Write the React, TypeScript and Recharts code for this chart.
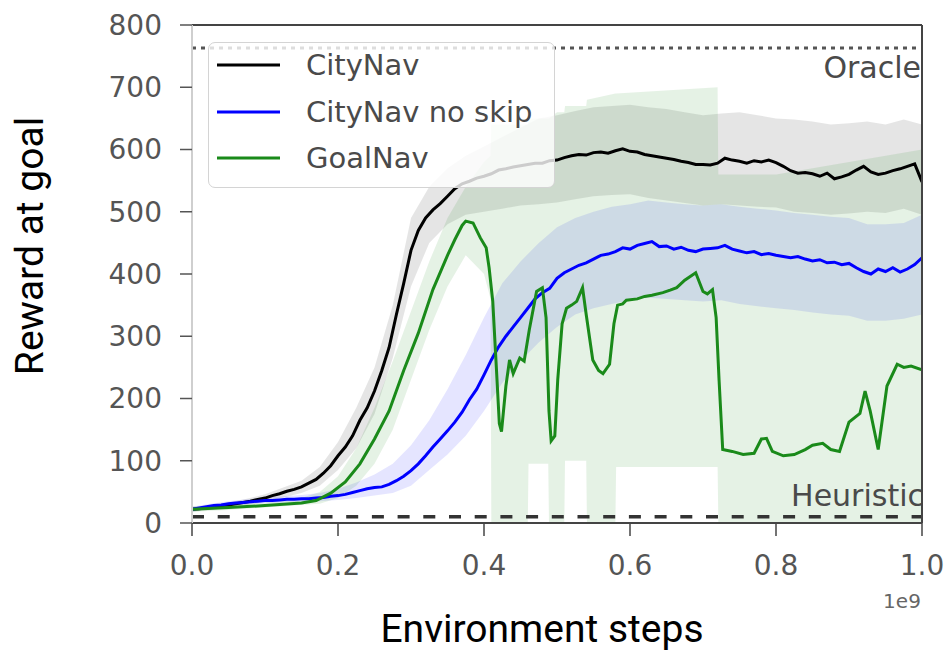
import {
  ComposedChart,
  Line,
  Area,
  XAxis,
  YAxis,
  ReferenceLine,
  Legend,
  Label,
} from "recharts";

// x grid shared by the two CityNav curves (units of 1e9 steps)
const steps = Array.from({ length: 101 }, (_, i) => i / 100);

const cityNavReward = [
  22, 23, 25, 26, 28, 29, 31, 33, 35, 38,
  40, 44, 47, 51, 54, 58, 64, 70, 80, 92,
  108, 122, 140, 165, 185, 212, 245, 282, 335, 385,
  438, 470, 490, 503, 513, 525, 537, 545, 549, 554,
  557, 561, 567, 569, 572, 574, 576, 578, 578, 582,
  583, 587, 590, 592, 591, 595, 596, 594, 598, 601,
  597, 596, 592, 590, 588, 586, 584, 581, 579, 576,
  576, 575, 578, 586, 583, 581, 578, 582, 580, 583,
  579, 573, 566, 562, 563, 561, 557, 562, 553, 556,
  560, 567, 573, 564, 560, 562, 566, 569, 573, 577, 548,
];

const noSkipReward = [
  22, 24, 26, 28, 29, 31, 32, 33, 34, 35,
  36, 36, 37, 38, 38, 39, 39, 40, 41, 43,
  44, 46, 49, 52, 55, 57, 58, 62, 68, 75,
  84, 95, 108, 122, 135, 148, 162, 178, 198, 215,
  238, 262, 283, 300, 315, 330, 345, 360, 370, 377,
  393, 402, 408, 414, 418, 424, 430, 432, 436, 442,
  440, 446, 449, 452, 444, 445, 440, 443, 438, 436,
  440, 441, 442, 446, 440, 437, 434, 436, 431, 433,
  430, 428, 426, 428, 424, 421, 423, 418, 419, 415,
  417, 410, 404, 400, 408, 404, 410, 403, 408, 415, 426,
];

// spread bands for the CityNav curves, every 0.025
const bandSteps = Array.from({ length: 41 }, (_, i) => i * 0.025);

const cityNavLow = [
  18, 21, 25, 29, 34, 41, 48, 60, 85, 120, 175, 265, 380, 450, 480, 495, 500,
  505, 510, 512, 515, 520, 525, 527, 528, 522, 518, 514, 510, 512, 510, 508,
  507, 500, 498, 495, 497, 500, 498, 505, 495,
];
const cityNavHigh = [
  26, 29, 33, 39, 46, 57, 68, 90, 130, 185, 250, 350, 490, 540, 570, 590, 605,
  620, 635, 650, 655, 662, 668, 670, 672, 668, 665, 660, 655, 658, 660, 655,
  650, 648, 645, 640, 642, 645, 640, 648, 640,
];

const noSkipLow = [
  18, 23, 27, 30, 32, 33, 34, 35, 37, 40, 44, 48, 60, 85, 110, 140, 180, 225,
  260, 290, 315, 335, 345, 352, 358, 362, 360, 358, 356, 358, 352, 348, 345,
  342, 338, 335, 333, 325, 325, 328, 335,
];
const noSkipHigh = [
  26, 31, 35, 38, 41, 43, 45, 48, 55, 65, 78, 95, 125, 165, 215, 270, 330,
  385, 420, 450, 475, 490, 500, 508, 512, 518, 515, 512, 510, 512, 508, 505,
  502, 498, 495, 492, 490, 480, 480, 482, 495,
];

// GoalNav has sharp drops, so it keeps its own x positions
const goalNavSteps = [
  0, 0.05, 0.1, 0.15, 0.17, 0.19, 0.21, 0.23, 0.25, 0.27, 0.29, 0.31, 0.33,
  0.35, 0.36, 0.37, 0.375, 0.385, 0.395, 0.403, 0.407, 0.412, 0.417, 0.421,
  0.424, 0.43, 0.435, 0.44, 0.449, 0.455, 0.462, 0.472, 0.48, 0.485, 0.489,
  0.492, 0.497, 0.501, 0.507, 0.513, 0.52, 0.527, 0.535, 0.54, 0.549, 0.557,
  0.563, 0.572, 0.578, 0.583, 0.59, 0.595, 0.61, 0.62, 0.63, 0.645, 0.655,
  0.664, 0.675, 0.69, 0.7, 0.706, 0.713, 0.718, 0.722, 0.727, 0.74, 0.755,
  0.77, 0.78, 0.787, 0.795, 0.81, 0.825, 0.84, 0.85, 0.864, 0.875, 0.887, 0.9,
  0.915, 0.922, 0.929, 0.94, 0.952, 0.966, 0.975, 0.985, 1.0,
];
const goalNavReward = [
  22, 25, 28, 32, 36, 48, 66, 95, 135, 180, 245, 305, 375, 430, 455, 478, 485,
  482, 458, 442, 410, 356, 248, 160, 147, 220, 262, 240, 265, 260, 310, 372,
  378, 330, 180, 132, 140, 230, 320, 345, 350, 356, 378, 335, 262, 245, 240,
  255, 320, 350, 352, 358, 360, 364, 366, 370, 374, 378, 390, 402, 372, 368,
  375, 330, 230, 118, 115, 110, 112, 135, 136, 115, 108, 110, 118, 125, 128,
  118, 115, 162, 176, 212, 180, 118, 220, 255, 250, 252, 246,
];

const goalBandSteps = [
  0, 0.05, 0.1, 0.15, 0.175, 0.2, 0.225, 0.25, 0.275, 0.3, 0.325, 0.35, 0.375,
  0.4, 0.409, 0.41, 0.46, 0.461, 0.488, 0.489, 0.5, 0.51, 0.511, 0.54, 0.541,
  0.58, 0.581, 0.72, 0.721, 0.8, 0.9, 1.0,
];
const goalNavLow = [
  18, 21, 25, 29, 31, 40, 60, 95, 150, 230, 310, 380, 430, 400, 360, 0, 0, 95,
  95, 0, 0, 0, 100, 100, 0, 0, 90, 90, 0, 0, 0, 0,
];
const goalNavHigh = [
  26, 29, 33, 40, 50, 75, 120, 185, 260, 340, 420, 490, 540, 580, 590, 640,
  640, 650, 650, 650, 660, 660, 670, 670, 680, 690, 690, 700, 560, 560, 580,
  600,
];

const xTicks = [0, 0.2, 0.4, 0.6, 0.8, 1.0];
const yTicks = [0, 100, 200, 300, 400, 500, 600, 700, 800];
const oracleReward = 763;
const heuristicReward = 10;

const cityNavData = steps.map((x, i) => ({ x, y: cityNavReward[i] }));
const noSkipData = steps.map((x, i) => ({ x, y: noSkipReward[i] }));
const goalNavData = goalNavSteps.map((x, i) => ({ x, y: goalNavReward[i] }));
const cityNavBand = bandSteps.map((x, i) => ({
  x,
  range: [cityNavLow[i], cityNavHigh[i]],
}));
const noSkipBand = bandSteps.map((x, i) => ({
  x,
  range: [noSkipLow[i], noSkipHigh[i]],
}));
const goalNavBand = goalBandSteps.map((x, i) => ({
  x,
  range: [goalNavLow[i], goalNavHigh[i]],
}));

const tickStyle = { fontSize: 28, fill: "#555", fontFamily: "DejaVu Sans" };

const renderLegend = (props: any) => {
  const items = (props.payload || []).filter((p: any) => p.type !== "none");
  return (
    <div
      style={{
        position: "relative",
        width: 347,
        height: 146,
        boxSizing: "border-box",
        border: "1.5px solid #d4d4d4",
        borderRadius: 7,
        background: "rgba(255,255,255,0.8)",
      }}
    >
      {items.map((p: any, i: number) => (
        <div
          key={p.value}
          style={{
            position: "absolute",
            left: 8,
            top: 5 + i * 46.5,
            height: 34,
            display: "flex",
            alignItems: "center",
          }}
        >
          <svg width={63} height={34}>
            <line x1={0} x2={63} y1={17} y2={17} stroke={p.color} strokeWidth={3} />
          </svg>
          <span
            style={{
              marginLeft: 26,
              fontFamily: "DejaVu Sans",
              fontSize: 29,
              color: "#4a4a4a",
              whiteSpace: "nowrap",
            }}
          >
            {p.value}
          </span>
        </div>
      ))}
    </div>
  );
};

export default function App() {
  return (
    <div style={{ position: "absolute", left: 0, top: 0, background: "#fff" }}>
      <ComposedChart
        width={945}
        height={652}
        margin={{ top: 0, right: 0, bottom: 0, left: 0 }}
      >
        <XAxis
          dataKey="x"
          type="number"
          domain={[0, 1]}
          ticks={xTicks}
          tickFormatter={(v: number) => v.toFixed(1)}
          height={129}
          tick={tickStyle}
          tickSize={13}
          tickMargin={19}
          axisLine={{ stroke: "#444", strokeWidth: 2 }}
          tickLine={{ stroke: "#444", strokeWidth: 1.5 }}
          allowDataOverflow
        >
          <Label
            content={() => (
              <g>
                <text
                  x={542}
                  y={642}
                  textAnchor="middle"
                  fontFamily="Roboto"
                  fontSize={39}
                  fill="#000"
                >
                  Environment steps
                </text>
                <text
                  x={902}
                  y={608}
                  textAnchor="middle"
                  fontFamily="DejaVu Sans"
                  fontSize={20}
                  fill="#666"
                >
                  1e9
                </text>
              </g>
            )}
          />
        </XAxis>
        <XAxis
          xAxisId="top"
          orientation="top"
          dataKey="x"
          type="number"
          domain={[0, 1]}
          ticks={xTicks}
          tickFormatter={() => ""}
          height={25}
          tickSize={12}
          axisLine={{ stroke: "#444", strokeWidth: 2 }}
          tickLine={{ stroke: "#444", strokeWidth: 1.5 }}
        />
        <YAxis
          type="number"
          domain={[0, 800]}
          ticks={yTicks}
          width={192}
          tick={tickStyle}
          tickSize={12}
          tickMargin={18}
          axisLine={{ stroke: "#cfcfcf", strokeWidth: 2 }}
          tickLine={{ stroke: "#555", strokeWidth: 1.5 }}
          allowDataOverflow
        >
          <Label
            content={() => (
              <text
                transform="rotate(-90)"
                x={-246}
                y={43}
                textAnchor="middle"
                fontFamily="Roboto"
                fontSize={39}
                fill="#000"
              >
                Reward at goal
              </text>
            )}
          />
        </YAxis>
        <YAxis
          yAxisId="right"
          orientation="right"
          type="number"
          domain={[0, 800]}
          ticks={yTicks}
          width={23}
          tickFormatter={() => ""}
          tickSize={14}
          axisLine={{ stroke: "#444", strokeWidth: 2 }}
          tickLine={{ stroke: "#444", strokeWidth: 1.5 }}
        />

        <Area
          data={cityNavBand}
          dataKey="range"
          type="linear"
          stroke="none"
          fill="#000"
          fillOpacity={0.1}
          legendType="none"
          isAnimationActive={false}
        />
        <Area
          data={noSkipBand}
          dataKey="range"
          type="linear"
          stroke="none"
          fill="#0000ff"
          fillOpacity={0.1}
          legendType="none"
          isAnimationActive={false}
        />
        <Area
          data={goalNavBand}
          dataKey="range"
          type="linear"
          stroke="none"
          fill="#008000"
          fillOpacity={0.1}
          legendType="none"
          isAnimationActive={false}
        />

        <ReferenceLine
          y={oracleReward}
          stroke="#555"
          strokeWidth={3}
          strokeDasharray="4 5"
          label={(props: any) => (
            <text
              x={props.viewBox.x + props.viewBox.width - 1}
              y={props.viewBox.y + 30}
              textAnchor="end"
              fontFamily="DejaVu Sans"
              fontSize={30}
              fill="#4a4a4a"
            >
              Oracle
            </text>
          )}
        />
        <ReferenceLine
          y={heuristicReward}
          stroke="#333"
          strokeWidth={3.5}
          strokeDasharray="12 13.7"
          label={(props: any) => (
            <text
              x={props.viewBox.x + props.viewBox.width + 2}
              y={props.viewBox.y - 11}
              textAnchor="end"
              fontFamily="DejaVu Sans"
              fontSize={30}
              fill="#4a4a4a"
            >
              Heuristic
            </text>
          )}
        />

        <Line
          data={cityNavData}
          dataKey="y"
          name="CityNav"
          type="linear"
          stroke="#000"
          strokeWidth={3}
          dot={false}
          isAnimationActive={false}
        />
        <Line
          data={noSkipData}
          dataKey="y"
          name="CityNav no skip"
          type="linear"
          stroke="#0000ff"
          strokeWidth={3}
          dot={false}
          isAnimationActive={false}
        />
        <Line
          data={goalNavData}
          dataKey="y"
          name="GoalNav"
          type="linear"
          stroke="#1a8a1a"
          strokeWidth={3}
          dot={false}
          isAnimationActive={false}
        />

        <Legend
          layout="vertical"
          align="center"
          verticalAlign="middle"
          content={renderLegend}
          wrapperStyle={{ left: 208, top: 42, width: 347, height: 146 }}
        />
      </ComposedChart>
    </div>
  );
}
